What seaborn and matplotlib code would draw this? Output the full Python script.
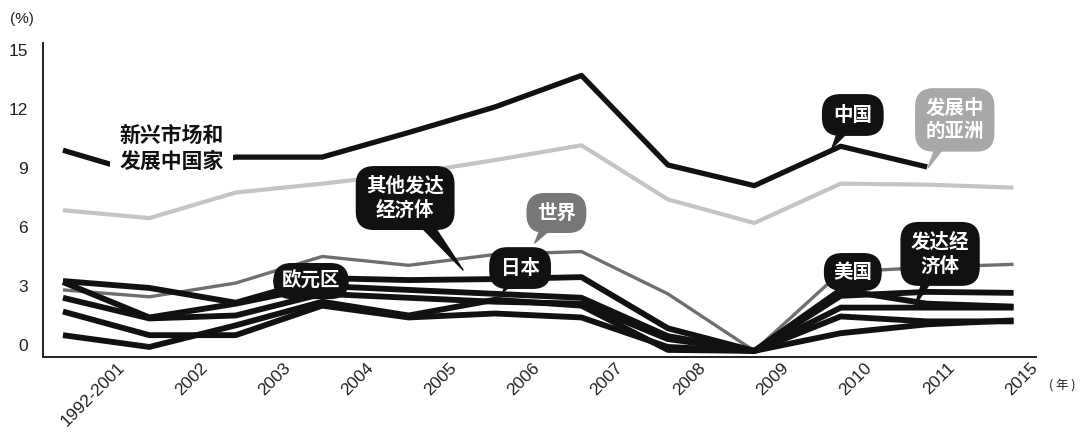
import numpy as np
import pandas as pd
import matplotlib
matplotlib.use("Agg")
import matplotlib.pyplot as plt
import seaborn as sns

# ---------------- data ----------------
categories = ["1992-2001", "2002", "2003", "2004", "2005", "2006",
              "2007", "2008", "2009", "2010", "2011", "2015"]
china      = [9.9, 8.6, 9.55, 9.55, 10.8, 12.1, 13.7, 9.15, 8.1, 10.1, 9.05]
dev_asia   = [6.85, 6.45, 7.75, 8.2, 8.7, 9.4, 10.15, 7.4, 6.2, 8.2, 8.15, 8.0]
world      = [2.8, 2.45, 3.15, 4.5, 4.05, 4.6, 4.75, 2.6, -0.3, 3.7, 3.95, 4.1]
other_adv  = [3.25, 2.9, 2.15, 3.4, 3.3, 3.35, 3.45, 0.85, -0.3, 2.8, 2.1, 1.95]
usa        = [3.2, 1.4, 2.1, 3.0, 2.8, 2.6, 2.4, 0.45, -0.3, 2.5, 2.7, 2.65]
advanced   = [2.4, 1.35, 1.5, 2.6, 2.4, 2.2, 2.1, 0.3, -0.3, 1.9, 1.9, 1.9]
euro       = [1.7, 0.5, 0.5, 2.0, 1.4, 1.6, 1.4, -0.1, -0.3, 1.45, 1.2, 1.2]
japan      = [0.5, -0.1, 1.0, 2.2, 1.5, 2.3, 2.0, -0.25, -0.3, 0.6, 1.05, 1.25]
yticks     = [0, 3, 6, 9, 12, 15]

# ---------------- style ----------------
sns.set_style("white")
plt.rcParams["font.family"] = ["Liberation Sans", "Noto Sans CJK SC", "DejaVu Sans"]
plt.rcParams["lines.solid_joinstyle"] = "round"
plt.rcParams["lines.solid_capstyle"] = "butt"
CJK = ["Noto Sans CJK SC", "DejaVu Sans"]

fig = plt.figure(figsize=(10.8, 4.47), dpi=100)
ax = fig.add_axes([43 / 1080, 90 / 447, (1036 - 43) / 1080, (357 - 43) / 447])

idx = np.arange(len(categories))
series = [
    (china, "#111111", 3.8),
    (dev_asia, "#c4c4c4", 3.0),
    (world, "#6f6f6f", 2.4),
    (other_adv, "#111111", 4.2),
    (usa, "#111111", 4.2),
    (advanced, "#111111", 4.2),
    (euro, "#111111", 4.2),
    (japan, "#111111", 4.2),
]
for vals, col, lw in series:
    sns.lineplot(x=idx[:len(vals)], y=vals, color=col, linewidth=lw, ax=ax,
                 legend=False)

# ---------------- axes ----------------
ax.set_xlim(-0.231, 11.26)
ax.set_ylim(-0.61, 15.35)
for s in ["top", "right"]:
    ax.spines[s].set_visible(False)
for s in ["left", "bottom"]:
    ax.spines[s].set_color("#222222")
    ax.spines[s].set_linewidth(1.4)

tick_pos = 0.69 + 0.96 * idx
ax.set_xticks(tick_pos)
ax.set_xticklabels(categories, rotation=45, ha="right", va="center",
                   rotation_mode="anchor", fontsize=12.5, color="#222222")
ax.tick_params(axis="x", direction="in", length=6, width=1.4,
               color="#222222", pad=6)
ax.set_yticks(yticks)
ax.set_yticklabels([str(v) for v in yticks], fontsize=12.5, color="#222222")
ax.tick_params(axis="y", length=0, pad=11)
ax.set_xlabel("")
ax.set_ylabel("")

fig.text(22 / 1080, 1 - 19 / 447, "(%)", ha="center", va="center",
         fontsize=11, color="#222222")
fig.text(1062 / 1080, 1 - 386 / 447, "( 年 )", ha="center", va="center",
         fontsize=9, color="#222222", family=CJK)

# ---------------- labels ----------------
ax.text(1.26, 10.0, "新兴市场和\n发展中国家", ha="center", va="center",
        fontsize=15, fontweight="bold", family=CJK, color="#111111",
        linespacing=1.25, zorder=6,
        bbox=dict(boxstyle="square,pad=0.45", fc="white", ec="none"))


def bubble(text, xytext, xytip, fc, fs=14, tw=0.9, pad=0.5):
    ax.annotate(text, xy=xytip, xytext=xytext, ha="center", va="center",
                color="white", fontsize=fs, fontweight="bold", family=CJK,
                linespacing=1.3, zorder=10,
                bbox=dict(boxstyle=f"round,pad={pad},rounding_size=0.9",
                          fc=fc, ec=fc),
                arrowprops=dict(arrowstyle=f"wedge,tail_width={tw},shrink_factor=0.5",
                                fc=fc, ec=fc, patchA=None, shrinkA=0, shrinkB=0))


bubble("中国", (9.14, 11.69), (8.9, 10.02), "#111111", pad=0.55)
bubble("发展中\n的亚洲", (10.32, 11.44), (10.01, 9.0), "#a8a8a8")
bubble("其他发达\n经济体", (3.96, 7.47), (4.63, 3.81), "#111111")
bubble("世界", (5.71, 6.71), (5.46, 5.19), "#777777")
bubble("欧元区", (2.87, 3.25), (2.95, 2.4), "#111111", pad=0.4)
bubble("日本", (5.29, 3.91), (5.09, 2.69), "#111111", pad=0.55)
bubble("美国", (9.14, 3.71), (8.95, 2.75), "#111111", pad=0.45)
bubble("发达经\n济体", (10.15, 4.63), (9.86, 2.03), "#111111")

fig.savefig("out.png", dpi=100, facecolor="white")
